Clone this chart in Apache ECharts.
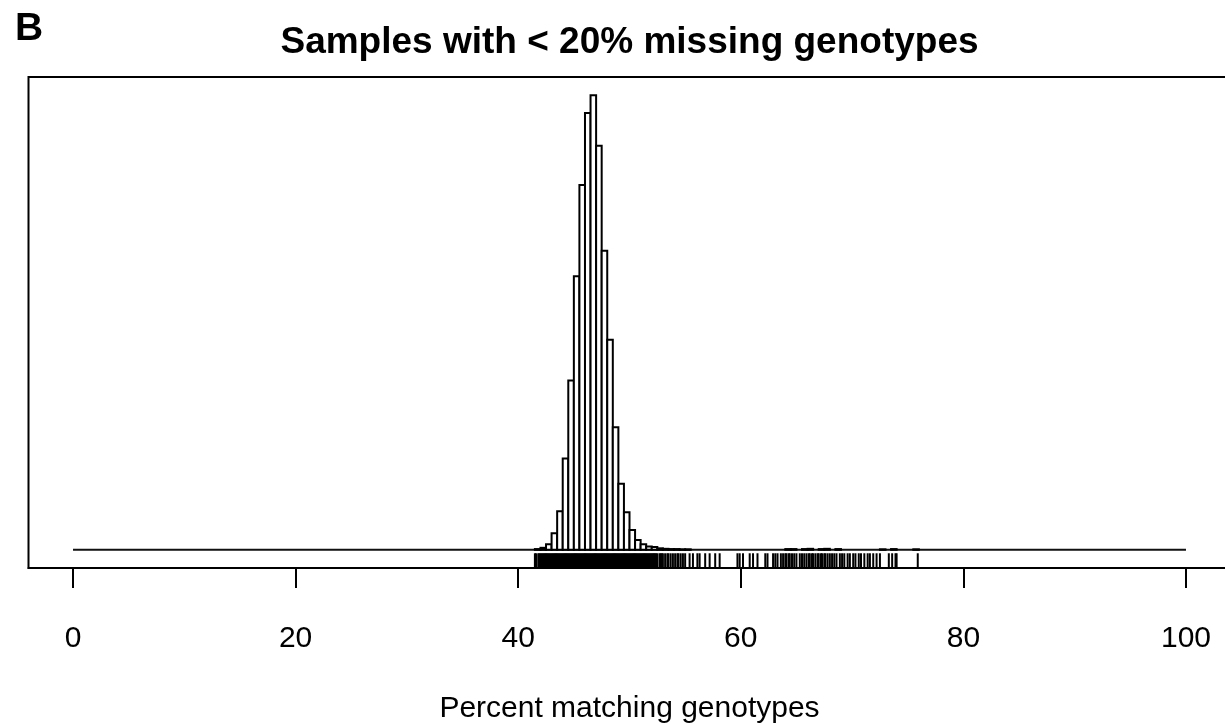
<!DOCTYPE html>
<html>
<head>
<meta charset="utf-8">
<title>Samples with &lt; 20% missing genotypes</title>
<script src="https://cdn.jsdelivr.net/npm/echarts@6/dist/echarts.min.js"></script>
<style>
  html, body { margin: 0; padding: 0; background: #fff; }
  #chart { width: 1225px; height: 723px; }
</style>
</head>
<body>
<div id="chart"></div>
<script>
// Histogram of percent matching genotypes (0.5-wide bins; bins not listed are empty)
const binStarts = [41.5, 42.0, 42.5, 43.0, 43.5, 44.0, 44.5, 45.0, 45.5, 46.0, 46.5, 47.0,
  47.5, 48.0, 48.5, 49.0, 49.5, 50.0, 50.5, 51.0, 51.5, 52.0, 52.5, 53.0, 53.5, 54.0,
  54.5, 55.0, 64.0, 64.5, 65.5, 66.0, 67.0, 67.5, 68.5, 72.5, 73.5, 75.5];
const binCounts = [3, 8, 22, 66, 155, 366, 679, 1096, 1462, 1751, 1822, 1619,
  1199, 842, 491, 265, 151, 79, 39, 22, 13, 11, 6, 4, 3, 3,
  2, 2, 3, 3, 3, 4, 3, 4, 3, 2, 3, 2];
const binWidth = 0.5;

// Individual sample values shown as a rug under the histogram
const rugCore = [41.5, 41.6, 41.8, 41.9,
  42.0, 42.1, 42.2, 42.3, 42.4, 42.5, 42.6, 42.7, 42.8, 42.9,
  43.0, 43.1, 43.2, 43.3, 43.4, 43.5, 43.6, 43.7, 43.8, 43.9,
  44.0, 44.1, 44.2, 44.3, 44.4, 44.5, 44.6, 44.7, 44.8, 44.9,
  45.0, 45.1, 45.2, 45.3, 45.4, 45.5, 45.6, 45.7, 45.8, 45.9,
  46.0, 46.1, 46.2, 46.3, 46.4, 46.5, 46.6, 46.7, 46.8, 46.9,
  47.0, 47.1, 47.2, 47.3, 47.4, 47.5, 47.6, 47.7, 47.8, 47.9,
  48.0, 48.1, 48.2, 48.3, 48.4, 48.5, 48.6, 48.7, 48.8, 48.9,
  49.0, 49.1, 49.2, 49.3, 49.4, 49.5, 49.6, 49.7, 49.8, 49.9,
  50.0, 50.1, 50.2, 50.3, 50.4, 50.5, 50.6, 50.7, 50.8, 50.9,
  51.0, 51.1, 51.2, 51.3, 51.4, 51.5, 51.6, 51.7, 51.8, 51.9,
  52.0, 52.1, 52.2, 52.3, 52.4, 52.5];
const rugTail = [52.7, 52.8, 52.9, 53.0, 53.2, 53.4, 53.5, 53.7, 53.9, 54.1, 54.3, 54.4,
  54.6, 54.8, 55.0, 55.4, 55.7, 56.1, 56.3, 56.8, 57.2, 57.7, 58.1, 59.7, 59.9, 60.2,
  60.8, 61.1, 61.5, 62.2, 62.4, 62.9, 63.1, 63.3, 63.6, 63.8, 64.0, 64.1, 64.3, 64.4,
  64.6, 64.8, 65.0, 65.3, 65.5, 65.7, 65.9, 66.1, 66.2, 66.4, 66.5, 66.7, 66.9, 67.0,
  67.2, 67.3, 67.5, 67.6, 67.8, 68.0, 68.2, 68.4, 68.6, 68.9, 69.1, 69.3, 69.6, 69.8,
  70.1, 70.3, 70.6, 70.8, 71.1, 71.4, 71.6, 71.9, 72.2, 72.5, 73.3, 73.6, 73.9, 74.0, 75.9];

const xTicks = [0, 20, 40, 60, 80, 100];
const xRange = [0, 100];

const chartTitle = 'Samples with < 20% missing genotypes';
const panelLetter = 'B';
const xTitle = 'Percent matching genotypes';

// ---- build series data ----
const histData = binStarts.map((s, i) => [s, s + binWidth, binCounts[i]]);
const rugData = rugCore.concat(rugTail).map(v => [v]);
const maxCount = Math.max.apply(null, binCounts);
const yMin = -0.04 * maxCount;
const yMax = 1.04 * maxCount;
const xPad = 0.04 * (xRange[1] - xRange[0]);

const FONT = '"Liberation Sans", Arial, Helvetica, sans-serif';

const chart = echarts.init(document.getElementById('chart'), null, { renderer: 'canvas' });

chart.setOption({
  animation: false,
  backgroundColor: '#fff',
  grid: {
    left: 28.5, top: 77, width: 1202, height: 491,
    outerBoundsMode: 'none',
    containLabel: false,
    show: true, borderColor: '#000', borderWidth: 2, backgroundColor: 'transparent'
  },
  xAxis: {
    type: 'value',
    min: xRange[0] - xPad,
    max: xRange[1] + xPad,
    splitLine: { show: false },
    axisLine: { show: true, onZero: false, lineStyle: { color: '#000', width: 2 } },
    axisTick: {
      show: true, customValues: xTicks, length: 20, inside: false,
      lineStyle: { color: '#000', width: 2 }
    },
    axisLabel: {
      show: true, customValues: xTicks, margin: 56,
      color: '#000', fontSize: 30, fontFamily: FONT
    }
  },
  yAxis: {
    type: 'value', min: yMin, max: yMax, show: false,
    splitLine: { show: false }
  },
  graphic: [
    {
      type: 'text', x: 629.5, y: 43, z: 10,
      style: {
        text: chartTitle, fill: '#000', font: 'bold 37px ' + FONT,
        textAlign: 'center', textVerticalAlign: 'middle'
      }
    },
    {
      type: 'text', x: 29, y: 29, z: 10,
      style: {
        text: panelLetter, fill: '#000', font: 'bold 39px ' + FONT,
        textAlign: 'center', textVerticalAlign: 'middle'
      }
    },
    {
      type: 'text', x: 629.5, y: 709, z: 10,
      style: {
        text: xTitle, fill: '#000', font: '30px ' + FONT,
        textAlign: 'center', textVerticalAlign: 'middle'
      }
    }
  ],
  series: [
    {
      // empty bins across the full range form the flat base line
      type: 'line',
      data: [[xRange[0], 0], [xRange[1], 0]],
      symbol: 'none',
      lineStyle: { color: '#111', width: 2 },
      z: 1,
      silent: true
    },
    {
      type: 'custom',
      data: histData,
      z: 2,
      renderItem: function (params, api) {
        const p0 = api.coord([api.value(0), 0]);
        const p1 = api.coord([api.value(1), api.value(2)]);
        return {
          type: 'rect',
          shape: { x: p0[0], y: p1[1], width: p1[0] - p0[0], height: p0[1] - p1[1] },
          style: { fill: '#fff', stroke: '#000', lineWidth: 2 }
        };
      }
    },
    {
      type: 'custom',
      data: rugData,
      z: 3,
      renderItem: function (params, api) {
        const b = api.coord([api.value(0), yMin]);
        const tick = 0.03 * 491;
        return {
          type: 'line',
          shape: { x1: b[0], y1: b[1], x2: b[0], y2: b[1] - tick },
          style: { stroke: '#000', lineWidth: 2 }
        };
      }
    }
  ]
});
</script>
</body>
</html>
